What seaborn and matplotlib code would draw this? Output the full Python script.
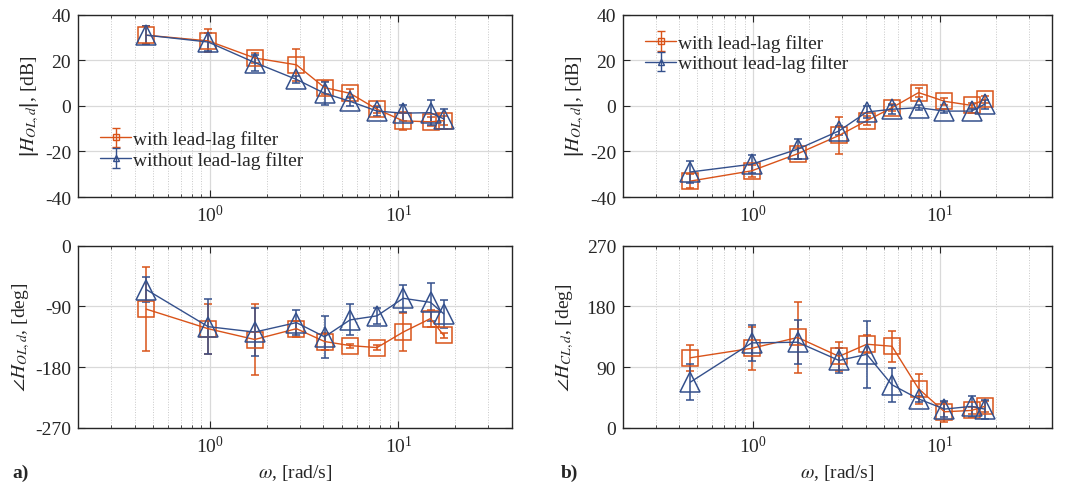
import numpy as np
import pandas as pd
import seaborn as sns
import matplotlib.pyplot as plt
from matplotlib.ticker import LogLocator, NullFormatter, FixedLocator

# ---- data ----
freq = [0.46, 0.98, 1.73, 2.88, 4.06, 5.54, 7.7, 10.6, 14.8, 17.4]

magA_with = [31, 28.5, 21, 18, 8, 5.5, -1.5, -6.6, -7, -6.5]
magA_with_err = [4, 5, 2, 7, 3, 2, 1.5, 4, 2, 2]
magA_without = [31, 28, 19, 11.6, 5.5, 2, -2.3, -3.2, -3, -5.7]
magA_without_err = [4, 4, 3.5, 1.5, 5, 2, 2, 3.5, 5.5, 4.5]

phA_with = [-94, -123, -139, -123, -142, -148, -151, -128, -108, -133]
phA_with_err = [62, 37, 52, 12, 12, 3, 4, 28, 13, 4]
phA_without = [-65, -120, -128, -114, -135, -110, -104, -78, -84, -101]
phA_without_err = [18, 41, 36, 19, 31, 23, 12, 20, 28, 21]

magB_with = [-33, -28.5, -21, -13, -6.5, -0.8, 5.8, 2, 0.2, 2.8]
magB_with_err = [3, 2.5, 2.5, 8, 2, 1.5, 2, 1.5, 1, 1.5]
magB_without = [-29, -25.6, -19, -11, -2.7, -1.5, -0.8, -2.3, -2.3, 0.7]
magB_without_err = [5, 4, 4.5, 2, 2.5, 2, 1, 1, 1, 2]

phB_with = [104, 118, 134, 106, 124, 121, 58, 24, 26, 32]
phB_with_err = [19, 32, 52, 22, 13, 23, 22, 15, 5, 8]
phB_without = [68, 126, 127, 100, 109, 64, 43, 28, 32, 28]
phB_without_err = [27, 27, 33, 18, 50, 25, 5, 12, 16, 14]

LABELS = ["with lead-lag filter", "without lead-lag filter"]
ORANGE = "#D95319"
BLUE = "#34508C"

sns.set_theme(style="ticks")
plt.rcParams["font.family"] = ["Liberation Serif", "DejaVu Serif"]
plt.rcParams["mathtext.fontset"] = "stix"
plt.rcParams["axes.unicode_minus"] = False
plt.rcParams["text.color"] = "#262626"
plt.rcParams["axes.labelcolor"] = "#262626"
plt.rcParams["xtick.color"] = "#262626"
plt.rcParams["ytick.color"] = "#262626"

fig = plt.figure(figsize=(10.65, 4.89), dpi=100)

left_x, right_x = 0.0732, 0.585
top_y, bot_y = 0.595, 0.1227
w_l, w_r, h = 0.4075, 0.4028, 0.373

ax_a1 = fig.add_axes([left_x, top_y, w_l, h])
ax_a2 = fig.add_axes([left_x, bot_y, w_l, h])
ax_b1 = fig.add_axes([right_x, top_y, w_r, h])
ax_b2 = fig.add_axes([right_x, bot_y, w_r, h])


def draw(ax, y1, e1, y2, e2, yticks):
    series = [(y1, e1, ORANGE, "s", 12), (y2, e2, BLUE, "^", 15)]
    for y, e, c, m, ms in series:
        df = pd.DataFrame({"w": freq, "val": y})
        ax.errorbar(freq, y, yerr=e, fmt="none", ecolor=c, elinewidth=1.1,
                    capsize=3, capthick=1.1, zorder=3)
        sns.lineplot(data=df, x="w", y="val", ax=ax, color=c, marker=m,
                     markersize=ms, markerfacecolor="none", markeredgecolor=c,
                     markeredgewidth=1.1, linewidth=1.0, legend=False, zorder=4)
    ax.set_xscale("log")
    ax.set_xlim(0.2, 40)
    ax.set_ylim(yticks[0], yticks[-1])
    ax.yaxis.set_major_locator(FixedLocator(yticks))
    ax.xaxis.set_major_locator(LogLocator(base=10, numticks=10))
    ax.xaxis.set_minor_locator(LogLocator(base=10, subs=np.arange(2, 10), numticks=20))
    ax.xaxis.set_minor_formatter(NullFormatter())
    ax.grid(True, which="major", color="#d9d9d9", linewidth=0.9, linestyle="-")
    ax.grid(True, which="minor", axis="x", color="#c8c8c8", linewidth=0.7, linestyle=":")
    ax.set_axisbelow(True)
    ax.tick_params(which="both", direction="in", top=True, right=True,
                   labelsize=14, pad=5)
    ax.tick_params(which="major", length=5, width=0.8)
    ax.tick_params(which="minor", length=2.5, width=0.6)
    for s in ax.spines.values():
        s.set_color("#262626")
        s.set_linewidth(1.0)
    ax.set_xlabel("")
    ax.set_ylabel("")


draw(ax_a1, magA_with, magA_with_err, magA_without, magA_without_err, [-40, -20, 0, 20, 40])
draw(ax_a2, phA_with, phA_with_err, phA_without, phA_without_err, [-270, -180, -90, 0])
draw(ax_b1, magB_with, magB_with_err, magB_without, magB_without_err, [-40, -20, 0, 20, 40])
draw(ax_b2, phB_with, phB_with_err, phB_without, phB_without_err, [0, 90, 180, 270])

for ax in (ax_a1, ax_b1):
    ax.set_ylabel(r"$\left|H_{OL,d}\right|$, [dB]", fontsize=14, labelpad=2)
ax_a2.set_ylabel(r"$\angle H_{OL,d}$, [deg]", fontsize=14, labelpad=2)
ax_b2.set_ylabel(r"$\angle H_{CL,d}$, [deg]", fontsize=14, labelpad=8)
for ax in (ax_a2, ax_b2):
    ax.set_xlabel(r"$\omega$, [rad/s]", fontsize=14, labelpad=4)


def add_legend(ax, loc, anchor):
    handles = []
    for c, m in [(ORANGE, "s"), (BLUE, "^")]:
        h = ax.errorbar([np.nan], [np.nan], yerr=[1], fmt="-" + m, color=c,
                        markersize=4.5, markerfacecolor="none", markeredgecolor=c,
                        linewidth=1.0, capsize=3)
        handles.append(h)
    ax.legend(handles, LABELS, loc=loc, bbox_to_anchor=anchor, frameon=False,
              fontsize=14, handlelength=1.6, handletextpad=0.1,
              labelspacing=0.15, borderaxespad=0.3)


add_legend(ax_a1, "lower left", (0.02, 0.08))
add_legend(ax_b1, "upper left", (0.02, 0.97))

fig.text(0.012, 0.022, "a)", fontsize=14, fontweight="bold")
fig.text(0.527, 0.022, "b)", fontsize=14, fontweight="bold")

fig.savefig("out.png", dpi=100)
